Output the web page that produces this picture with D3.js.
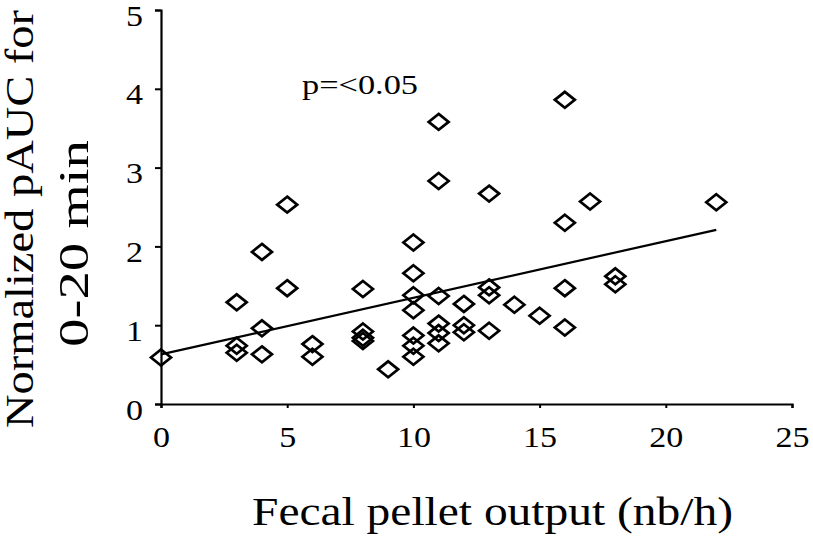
<!DOCTYPE html>
<html>
<head>
<meta charset="utf-8">
<script src="https://cdn.jsdelivr.net/npm/d3@7/dist/d3.min.js"></script>
<style>
  html, body { margin: 0; padding: 0; background: #fff; }
  svg { display: block; }
  text { font-family: "Liberation Serif", "Times New Roman", serif; fill: #000; }
</style>
</head>
<body>
<svg id="chart" width="813" height="540"></svg>
<script>
// Data
const pelletOutput = [0, 3, 3, 3, 4, 4, 4, 5, 5, 6, 6, 8, 8, 8, 8, 9,
  10, 10, 10, 10, 10, 10, 10, 11, 11, 11, 11, 11, 11, 12, 12, 12,
  13, 13, 13, 13, 14, 15, 16, 16, 16, 16, 17, 18, 18, 22];
const normalizedPAUC = [0.59, 1.29, 0.74, 0.65, 1.93, 0.96, 0.63, 2.53, 1.47, 0.76, 0.60, 1.46, 0.92, 0.84, 0.80, 0.44,
  2.05, 1.66, 1.38, 1.19, 0.87, 0.74, 0.60, 3.58, 2.83, 1.37, 1.02, 0.90, 0.77, 1.27, 1.00, 0.91,
  2.67, 1.48, 1.38, 0.93, 1.26, 1.12, 3.86, 2.30, 1.47, 0.97, 2.57, 1.62, 1.52, 2.56];
const trendX = [0, 22];
const trendY = [0.63, 2.21];
const xTicks = [0, 5, 10, 15, 20, 25];
const yTicks = [0, 1, 2, 3, 4, 5];
const xTitle = "Fecal pellet output (nb/h)";
const yTitle1 = "Normalized pAUC for";
const yTitle2 = "0-20 min";
const annotation = "p=<0.05";

const FONT = '"Liberation Serif", "Times New Roman", serif';
const svg = d3.select("#chart");
const x = d3.scaleLinear().domain([0, 25]).range([161, 792]);
const y = d3.scaleLinear().domain([0, 5]).range([404, 10]);

// Axes
const xAxis = svg.append("g").attr("transform", `translate(0,${y(0)})`)
  .call(d3.axisBottom(x).tickValues(xTicks).tickSize(4).tickSizeOuter(4).tickFormat(d3.format("d")));
const yAxis = svg.append("g").attr("transform", `translate(${x(0)},0)`)
  .call(d3.axisLeft(y).tickValues(yTicks).tickSize(6).tickSizeOuter(6).tickFormat(d3.format("d")));

[xAxis, yAxis].forEach(g => {
  g.attr("font-family", FONT).attr("font-size", 30);
  g.select(".domain").attr("stroke", "#000").attr("stroke-width", 2.2);
  g.selectAll(".tick line").attr("stroke", "#000").attr("stroke-width", 2);
  g.selectAll(".tick text")
    .style("font-family", FONT)
    .style("font-size", "30px")
    .attr("fill", "#000")
    .attr("lengthAdjust", "spacingAndGlyphs")
    .attr("textLength", d => String(d).length * 17);
});
xAxis.selectAll(".tick text").attr("y", 43).attr("dy", 0);
yAxis.selectAll(".tick text").attr("x", -18).attr("dy", 0).attr("y", 15);

// Trend line
const line = d3.line().x(d => x(d[0])).y(d => y(d[1]));
svg.append("path")
  .datum(trendX.map((v, i) => [v, trendY[i]]))
  .attr("d", line)
  .attr("fill", "none")
  .attr("stroke", "#000")
  .attr("stroke-width", 2.2);

// Diamond markers
const hw = 10, hh = 8;
const diamond = `M0,${-hh}L${hw},0L0,${hh}L${-hw},0Z`;
svg.append("g").selectAll("path")
  .data(pelletOutput.map((v, i) => [v, normalizedPAUC[i]]))
  .join("path")
  .attr("d", diamond)
  .attr("transform", d => `translate(${x(d[0])},${y(d[1])})`)
  .attr("fill", "none")
  .attr("stroke", "#000")
  .attr("stroke-width", 2.7)
  .attr("stroke-linejoin", "miter");

// Annotation
svg.append("text")
  .attr("x", 302).attr("y", 94)
  .style("font-size", "28px")
  .attr("lengthAdjust", "spacingAndGlyphs")
  .attr("textLength", 116)
  .text(annotation);

// X title
svg.append("text")
  .attr("x", 252).attr("y", 525)
  .style("font-size", "39px")
  .attr("lengthAdjust", "spacingAndGlyphs")
  .attr("textLength", 481)
  .text(xTitle);

// Y title (two lines)
svg.append("text")
  .attr("transform", "translate(33,428) rotate(-90)")
  .style("font-size", "41px")
  .attr("lengthAdjust", "spacingAndGlyphs")
  .attr("textLength", 418)
  .text(yTitle1);
svg.append("text")
  .attr("transform", "translate(88,347) rotate(-90)")
  .style("font-size", "42px")
  .attr("lengthAdjust", "spacingAndGlyphs")
  .attr("textLength", 207)
  .text(yTitle2);
</script>
</body>
</html>
